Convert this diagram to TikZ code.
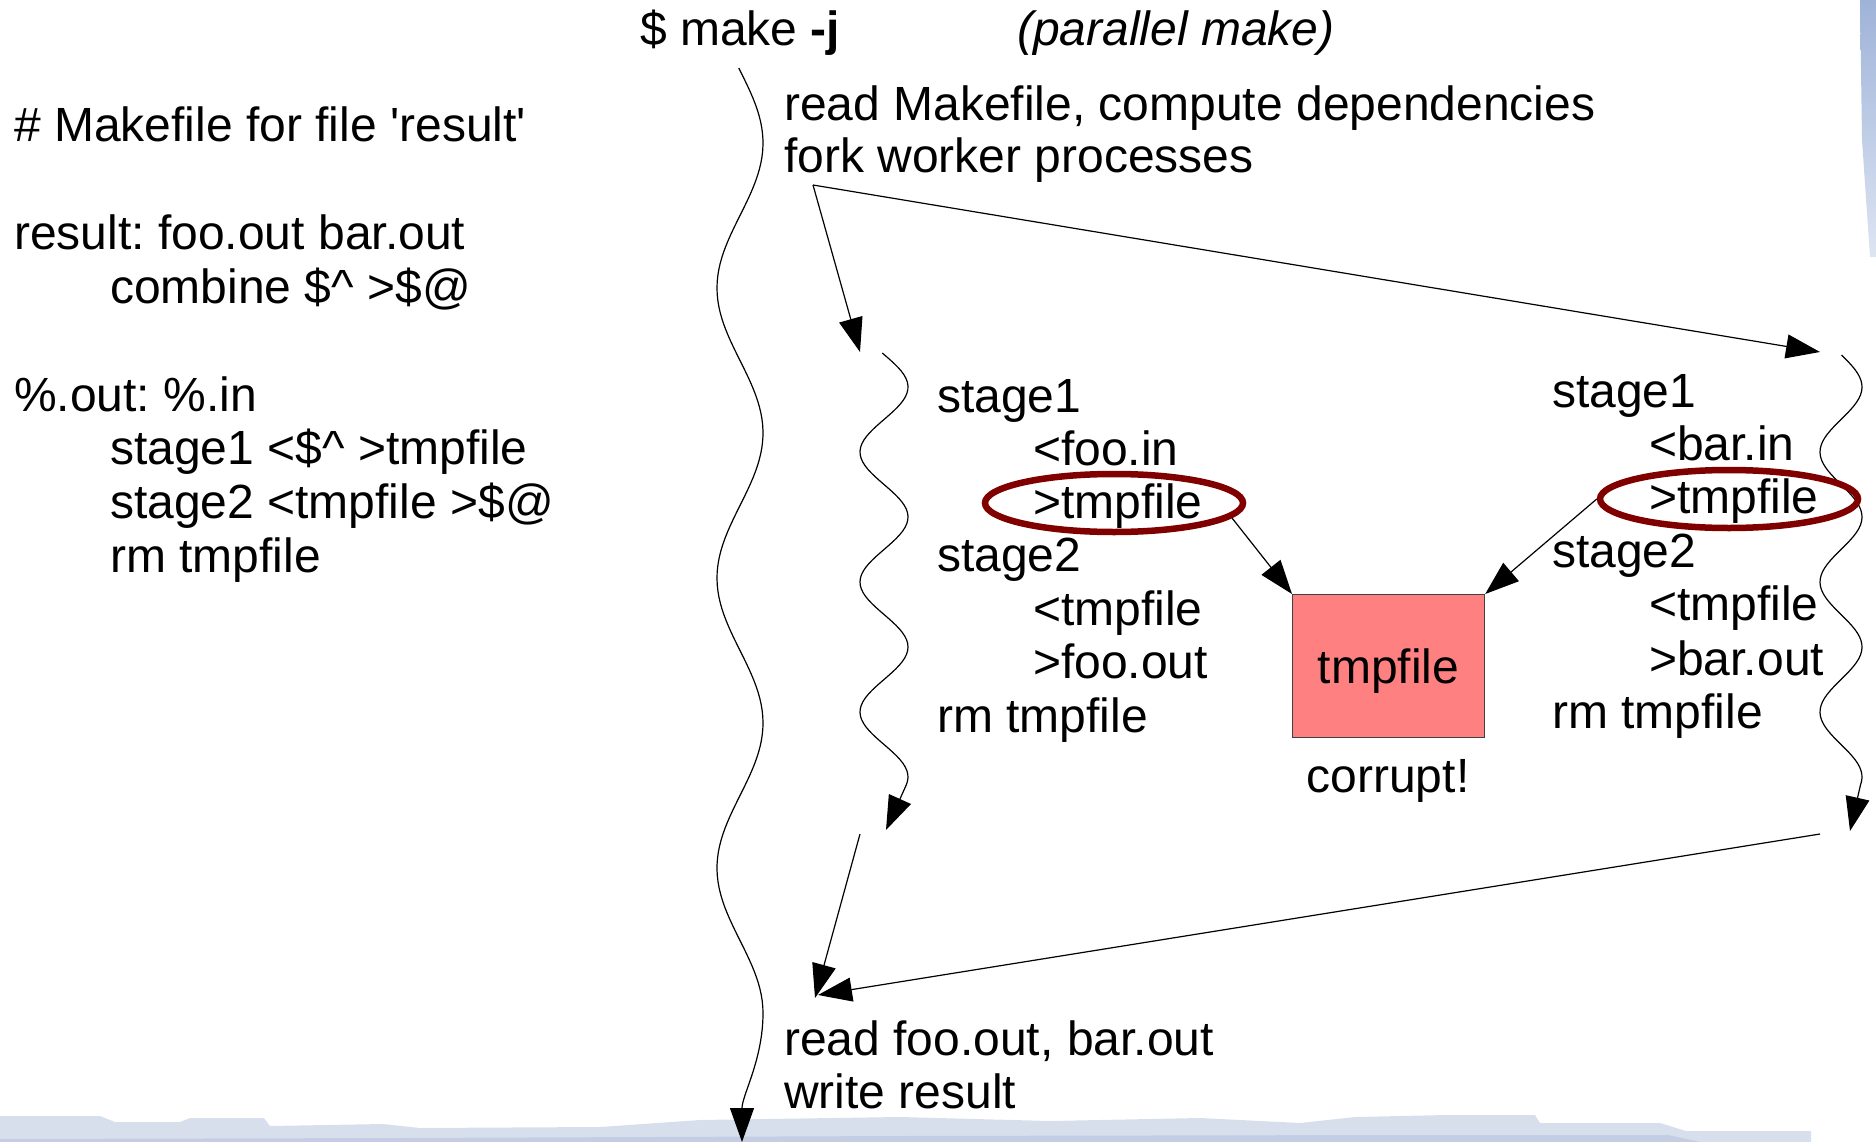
\documentclass[tikz,border=0pt]{standalone}
\usepackage{fontspec}
\setmainfont{Liberation Sans}[Ligatures=TeXOff]
\usetikzlibrary{arrows.meta,shapes.geometric}
\frenchspacing
\definecolor{ringred}{HTML}{800000}
\definecolor{boxfill}{HTML}{FF8080}
\definecolor{boxline}{HTML}{404040}
\definecolor{bandlight}{HTML}{D8DFEC}
\definecolor{banddark}{HTML}{C3CEE5}
\definecolor{stripetop}{HTML}{9FB3D9}
\definecolor{stripebot}{HTML}{DDE5F2}
\begin{document}
\begin{tikzpicture}[x=1pt,y=-1pt,
  txt/.style={font=\frenchspacing\fontsize{48}{55}\selectfont, inner sep=0pt, anchor=base west},
  wire/.style={line width=1.2pt, black},
  arr/.style={wire, -{Triangle[length=34pt,width=24pt]}},
  ring/.style={draw=ringred, line width=6.5pt, ellipse, inner sep=0pt, minimum width=258pt, minimum height=58pt}]
\useasboundingbox (0,0) rectangle (1876,1142);
% slide background
\fill[bandlight] (0,1116) -- (100,1116) -- (115,1122) -- (180,1122) -- (190,1118) -- (264,1118)
  -- (270,1126) -- (383,1124) -- (420,1128) -- (600,1127) -- (700,1120) -- (900,1117) -- (1050,1121)
  -- (1200,1118) -- (1300,1123) -- (1355,1117) -- (1447,1115) -- (1535,1115) -- (1540,1123)
  -- (1660,1123) -- (1686,1131) -- (1811,1131) -- (1811,1142) -- (0,1142) -- cycle;
\fill[banddark] (0,1139) -- (400,1138) -- (900,1136) -- (1392,1135) -- (1668,1135) -- (1700,1142) -- (0,1142) -- cycle;
\shade[top color=stripetop, bottom color=stripebot] (1860,0) -- (1876,0) -- (1876,257) -- (1870,257) -- (1862,140) -- cycle;

% left column: the Makefile
\node[txt] (m1) at (14,142) {\# Makefile for file 'result'};
\node[txt] (m2) at (14,249) {result: foo.out bar.out};
\node[txt] (m3) at (110,303) {combine \$\textasciicircum{} >\$@};
\node[txt] (m4) at (14,411) {\%.out: \%.in};
\node[txt] (m5) at (110,464) {stage1 <\$\textasciicircum{} >tmpfile};
\node[txt] (m6) at (110,518) {stage2 <tmpfile >\$@};
\node[txt] (m7) at (110,572) {rm tmpfile};

% header
\node[txt] (cmd) at (640,46) {\$ make \textbf{-j}};
\node[txt] (par) at (1017,46) {\textit{(parallel make)}};
\node[txt] (r1) at (784,121) {read Makefile, compute dependencies};
\node[txt] (r2) at (784,173) {fork worker processes};
\node[txt] (f1) at (784,1055) {read foo.out, bar.out};
\node[txt] (f2) at (784,1108) {write result};

% connector end points
\coordinate (fork) at (813,185);
\coordinate (w1top) at (860,352);
\coordinate (w2top) at (1820,352);
\coordinate (w1end) at (886,830);
\coordinate (w2end) at (1850,831);
\coordinate (j1) at (860,834);
\coordinate (j2) at (1820,834);
\coordinate (jt1) at (815,998);
\coordinate (jt2) at (818,995);
\coordinate (mend) at (742,1142);

% main timeline
\draw[arr] plot[domain=68:1013, samples=160, variable=\t] ({740+23*sin((\t-360.5)/290*360)}, \t)
  .. controls (763,1060) and (742,1095) .. (mend);
% worker timelines
\draw[arr] plot[domain=353:785, samples=120, variable=\t] ({884+24*sin((\t-484.5)/130*360)}, \t) -- (w1end);
\draw[arr] plot[domain=355:785, samples=120, variable=\t] ({1841+21*sin((\t-484.5)/130*360)}, \t) -- (w2end);

% fork and join
\draw[arr] (fork) -- (w1top);
\draw[arr] (fork) -- (w2top);
\draw[arr] (j1) -- (jt1);
\draw[arr] (j2) -- (jt2);

% worker 1
\node[txt] (a1) at (937,412) {stage1};
\node[txt] (a2) at (1033,465) {<foo.in};
\node[txt] (a3) at (1033,518) {>tmpfile};
\node[txt] (a4) at (937,571) {stage2};
\node[txt] (a5) at (1033,625) {<tmpfile};
\node[txt] (a6) at (1033,678) {>foo.out};
\node[txt] (a7) at (937,732) {rm tmpfile};
% worker 2
\node[txt] (b1) at (1552,407) {stage1};
\node[txt] (b2) at (1649,460) {<bar.in};
\node[txt] (b3) at (1649,513) {>tmpfile};
\node[txt] (b4) at (1552,567) {stage2};
\node[txt] (b5) at (1649,620) {<tmpfile};
\node[txt] (b6) at (1649,675) {>bar.out};
\node[txt] (b7) at (1552,728) {rm tmpfile};

% rings
\node[ring] (le) at (1114,503) {};
\node[ring] (re) at (1729,499) {};
\coordinate (leo) at (1232,518);

% shared tmpfile
\node[draw=boxline, line width=1.2pt, fill=boxfill, minimum width=192pt, minimum height=143pt,
  inner sep=0pt, anchor=north west, text height=34pt, text depth=0pt,
  font=\fontsize{48}{55}\selectfont] (box) at (1292,594) {tmpfile};
\node[txt, anchor=base] (corrupt) at (1388,792) {corrupt!};

\draw[arr] (leo) -- (box.north west);
\draw[arr] (re.west) -- (box.north east);
\end{tikzpicture}
\end{document}
